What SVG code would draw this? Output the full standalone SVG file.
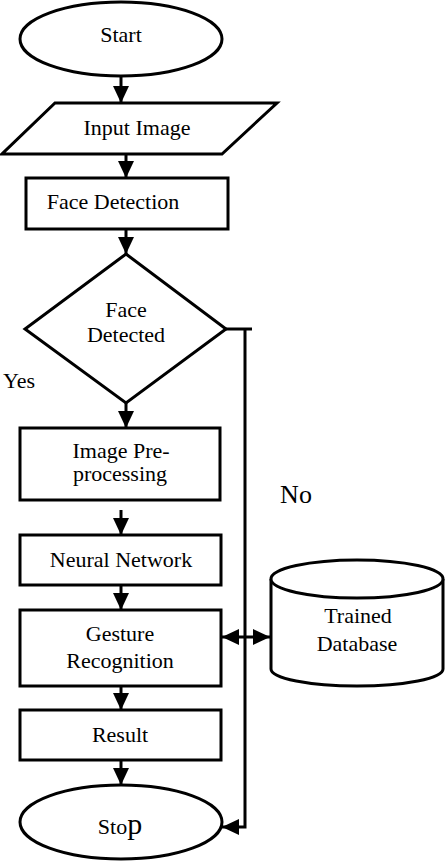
<svg xmlns="http://www.w3.org/2000/svg" width="446" height="862" viewBox="0 0 446 862">
<style>
.s{fill:#fff;stroke:#000;stroke-width:3}
.l{fill:none;stroke:#000;stroke-width:3}
text{font-family:"Liberation Serif","Times New Roman",serif;font-size:22px;fill:#000;text-anchor:middle}
</style>
<defs>
<marker id="ah" viewBox="0 0 17 16" refX="17" refY="8" markerWidth="17" markerHeight="16" markerUnits="userSpaceOnUse" orient="auto-start-reverse">
<path d="M0,0 L17,8 L0,16 z" fill="#000"/>
</marker>
</defs>
<rect width="446" height="862" fill="#fff"/>
<g id="connectors">
<line class="l" x1="121" y1="76" x2="121" y2="103" marker-end="url(#ah)"/>
<line class="l" x1="126" y1="154" x2="126" y2="178" marker-end="url(#ah)"/>
<line class="l" x1="126" y1="229" x2="126" y2="254" marker-end="url(#ah)"/>
<line class="l" x1="126" y1="403" x2="126" y2="428" marker-end="url(#ah)"/>
<line class="l" x1="121" y1="510" x2="121" y2="535" marker-end="url(#ah)"/>
<line class="l" x1="121" y1="585" x2="121" y2="610" marker-end="url(#ah)"/>
<line class="l" x1="121" y1="686" x2="121" y2="710" marker-end="url(#ah)"/>
<line class="l" x1="121" y1="760" x2="121" y2="785" marker-end="url(#ah)"/>
<line class="l" x1="226" y1="329" x2="252" y2="329"/>
<polyline class="l" points="245,329 245,827 222,827" marker-end="url(#ah)"/>
<line class="l" x1="222" y1="637" x2="270" y2="637" marker-start="url(#ah)" marker-end="url(#ah)"/>
</g>
<g id="start">
<ellipse class="s" cx="121" cy="39" rx="101" ry="37"/>
<text x="121" y="42">Start</text>
</g>
<g id="input-image">
<polygon class="s" points="55,103 277,103 222,154 2,154"/>
<text x="137" y="135">Input Image</text>
</g>
<g id="face-detection">
<rect class="s" x="26" y="178" width="202" height="51"/>
<text x="113" y="209">Face Detection</text>
</g>
<g id="face-detected">
<polygon class="s" points="126,254 226,329 126,403 25,329"/>
<text x="126" y="317">Face</text>
<text x="126" y="342">Detected</text>
</g>
<g id="labels">
<text x="19" y="388">Yes</text>
<text x="296" y="503" style="font-size:26px">No</text>
</g>
<g id="image-preprocessing">
<rect class="s" x="20" y="428" width="200" height="72"/>
<text x="121" y="458">Image Pre-</text>
<text x="120" y="481">processing</text>
</g>
<g id="neural-network">
<rect class="s" x="20" y="535" width="201" height="50"/>
<text x="121" y="567">Neural Network</text>
</g>
<g id="gesture-recognition">
<rect class="s" x="20" y="610" width="201" height="76"/>
<text x="120" y="641">Gesture</text>
<text x="120" y="668">Recognition</text>
</g>
<g id="result">
<rect class="s" x="20" y="710" width="201" height="50"/>
<text x="120" y="742">Result</text>
</g>
<g id="stop">
<ellipse class="s" cx="121" cy="822" rx="101" ry="37"/>
<text x="120" y="834">Sto<tspan style="font-size:30px">p</tspan></text>
</g>
<g id="trained-database">
<path class="s" d="M271,579 L271,669 A86,17 0 0 0 443,669 L443,579"/>
<ellipse class="s" cx="357" cy="579" rx="86" ry="19"/>
<text x="358" y="623">Trained</text>
<text x="357" y="651">Database</text>
</g>
</svg>
